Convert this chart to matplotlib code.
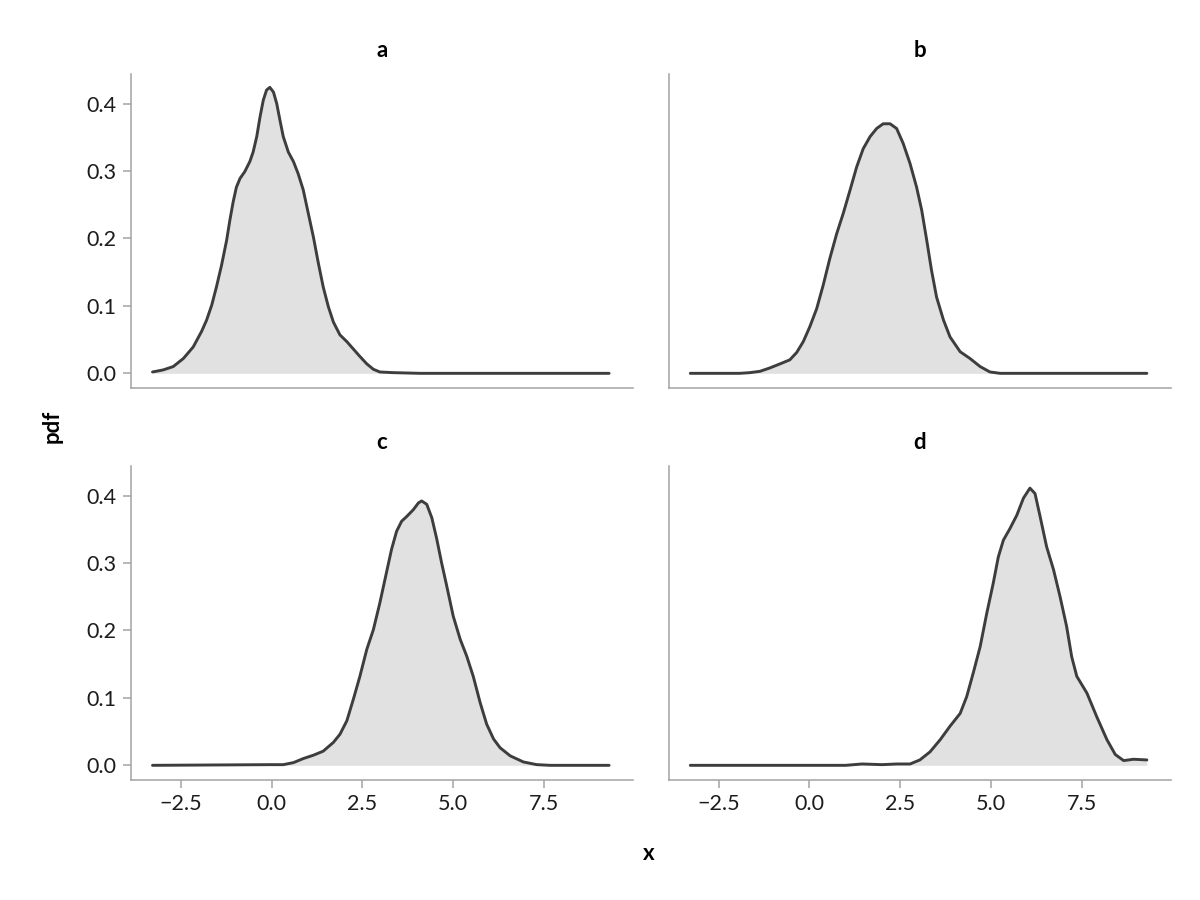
import matplotlib
matplotlib.use("Agg")
import matplotlib.pyplot as plt
from matplotlib import font_manager

# ---------------- data ----------------
PANELS = ["a", "b", "c", "d"]

X_A = [-3.28, -2.99, -2.71, -2.43, -2.16, -1.93, -1.79, -1.65, -1.52, -1.38, -1.24, -1.15,
       -1.06, -0.97, -0.87, -0.74, -0.60, -0.51, -0.41, -0.32, -0.23, -0.14, -0.05, 0.05,
       0.14, 0.23, 0.32, 0.46, 0.60, 0.73, 0.87, 1.01, 1.15, 1.28, 1.42, 1.56, 1.70, 1.88,
       2.07, 2.25, 2.43, 2.62, 2.80, 2.98, 3.35, 4.09, 9.29]
PDF_A = [0.002, 0.005, 0.010, 0.022, 0.039, 0.062, 0.079, 0.101, 0.128, 0.160, 0.197, 0.227,
         0.254, 0.276, 0.289, 0.299, 0.314, 0.328, 0.351, 0.380, 0.405, 0.420, 0.424, 0.417,
         0.400, 0.375, 0.351, 0.328, 0.314, 0.296, 0.272, 0.237, 0.202, 0.165, 0.128, 0.099,
         0.076, 0.057, 0.047, 0.036, 0.025, 0.014, 0.006, 0.002, 0.001, 0.0, 0.0]

X_B = [-3.28, -1.92, -1.64, -1.36, -1.09, -0.81, -0.54, -0.35, -0.17, 0.01, 0.20, 0.38,
       0.56, 0.75, 0.93, 1.12, 1.30, 1.48, 1.67, 1.85, 2.03, 2.22, 2.40, 2.58, 2.77, 2.95,
       3.09, 3.23, 3.36, 3.50, 3.69, 3.87, 4.15, 4.42, 4.70, 4.97, 5.25, 9.29]
PDF_B = [0.0, 0.0, 0.001, 0.003, 0.008, 0.014, 0.020, 0.031, 0.047, 0.069, 0.096, 0.131,
         0.170, 0.207, 0.237, 0.272, 0.306, 0.333, 0.351, 0.363, 0.370, 0.370, 0.363, 0.341,
         0.311, 0.276, 0.242, 0.197, 0.153, 0.113, 0.079, 0.054, 0.032, 0.022, 0.010, 0.002,
         0.0, 0.0]

X_C = [-3.28, -0.05, 0.32, 0.60, 0.87, 1.15, 1.42, 1.70, 1.88, 2.07, 2.25, 2.43, 2.62,
       2.80, 2.98, 3.17, 3.30, 3.44, 3.58, 3.72, 3.90, 4.04, 4.13, 4.27, 4.41, 4.54, 4.68,
       4.82, 5.00, 5.19, 5.37, 5.55, 5.74, 5.92, 6.11, 6.29, 6.57, 6.93, 7.30, 7.67, 9.29]
PDF_C = [0.0, 0.001, 0.001, 0.004, 0.010, 0.015, 0.021, 0.034, 0.046, 0.066, 0.098, 0.132,
         0.172, 0.201, 0.241, 0.288, 0.320, 0.347, 0.362, 0.369, 0.379, 0.389, 0.392, 0.387,
         0.367, 0.337, 0.300, 0.266, 0.221, 0.187, 0.162, 0.132, 0.093, 0.061, 0.039, 0.026,
         0.014, 0.005, 0.001, 0.0, 0.0]

X_D = [-3.28, 1.0, 1.45, 2.0, 2.4, 2.77, 3.04, 3.32, 3.60, 3.87, 4.15, 4.33, 4.51, 4.70,
       4.88, 5.06, 5.20, 5.34, 5.52, 5.71, 5.89, 6.07, 6.21, 6.35, 6.53, 6.72, 6.90, 7.08,
       7.22, 7.36, 7.64, 7.91, 8.19, 8.42, 8.65, 8.92, 9.29]
PDF_D = [0.0, 0.0, 0.002, 0.001, 0.002, 0.002, 0.008, 0.020, 0.038, 0.058, 0.077, 0.102,
         0.137, 0.176, 0.225, 0.270, 0.309, 0.334, 0.351, 0.371, 0.396, 0.411, 0.403, 0.369,
         0.324, 0.290, 0.250, 0.206, 0.161, 0.132, 0.107, 0.072, 0.038, 0.016, 0.007, 0.009,
         0.008]

X_TICKS = [-2.5, 0.0, 2.5, 5.0, 7.5]
Y_TICKS = [0.0, 0.1, 0.2, 0.3, 0.4]

SERIES = {"a": (X_A, PDF_A), "b": (X_B, PDF_B), "c": (X_C, PDF_C), "d": (X_D, PDF_D)}

# ---------------- style ----------------
names = {f.name for f in font_manager.fontManager.ttflist}
FAMILY = ["Lato", "DejaVu Sans"] if "Lato" in names else ["DejaVu Sans"]
plt.rcParams["font.family"] = FAMILY

FILL = "#e1e1e1"
LINE = "#3d3d3d"
SPINE = "#a3a3a3"

fig = plt.figure(figsize=(12, 9), dpi=100)

W = 502 / 1200
H = 314.7 / 900
lefts = [130.7 / 1200, 668.5 / 1200]
bottoms = [1 - 388.3 / 900, 1 - 780.3 / 900]

for i, name in enumerate(PANELS):
    r, c = divmod(i, 2)
    ax = fig.add_axes([lefts[c], bottoms[r], W, H])
    xs, ys = SERIES[name]
    ax.fill_between(xs, 0, ys, color=FILL, linewidth=0, zorder=1)
    ax.plot(xs, ys, color=LINE, linewidth=2.1, solid_joinstyle="round",
            solid_capstyle="round", zorder=2)
    ax.set_xlim(-3.88, 9.94)
    ax.set_ylim(-0.0222, 0.4444)
    for s in ["top", "right"]:
        ax.spines[s].set_visible(False)
    for s in ["left", "bottom"]:
        ax.spines[s].set_color(SPINE)
        ax.spines[s].set_linewidth(1.1)
    ax.set_xticks(X_TICKS)
    ax.set_yticks(Y_TICKS)
    ax.set_xticklabels([f"{v:.1f}".replace("-", "\u2212") for v in X_TICKS])
    ax.set_yticklabels([f"{v:.1f}" for v in Y_TICKS])
    ax.tick_params(axis="both", direction="out", length=6, width=1.1, color=SPINE,
                   labelsize=15.5, labelcolor="#1c1c1c", pad=4)
    if r == 0:
        ax.tick_params(axis="x", bottom=False, labelbottom=False)
    if c == 1:
        ax.tick_params(axis="y", left=False, labelleft=False)
    ax.set_title(name, fontsize=16, fontweight="bold", pad=12, color="black")

fig.text(52 / 1200, 1 - 426 / 900, "pdf", rotation=90, ha="center", va="center",
         fontsize=16, fontweight="bold")
fig.text(649 / 1200, 1 - 853 / 900, "x", ha="center", va="center",
         fontsize=16, fontweight="bold")

fig.savefig("out.png", dpi=100, facecolor="white")
